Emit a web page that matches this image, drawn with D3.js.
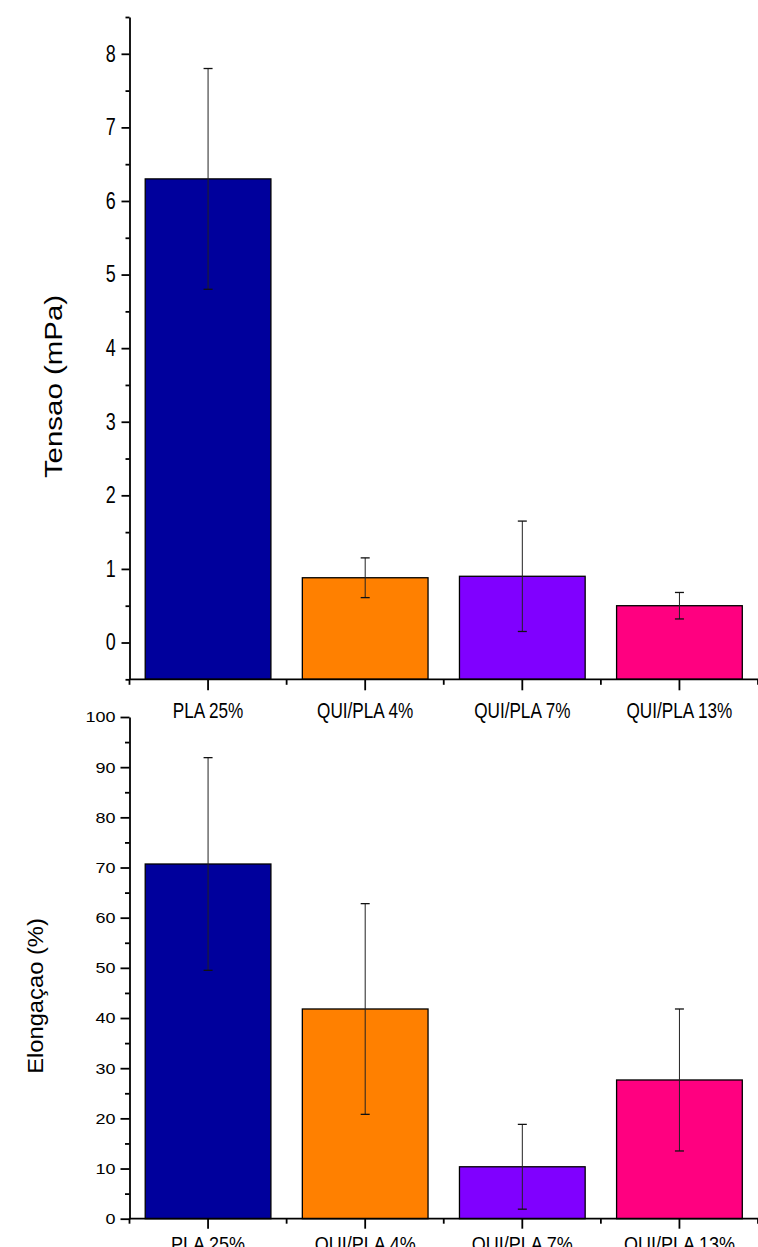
<!DOCTYPE html>
<html>
<head>
<meta charset="utf-8">
<script src="https://cdn.jsdelivr.net/npm/d3@7"></script>
<style>
  html, body { margin: 0; padding: 0; background: #fff; }
  svg { display: block; }
  text { font-family: "Liberation Sans", Arial, sans-serif; fill: #000; }
</style>
</head>
<body>
<script>
// ---- data ----
const categories = ["PLA 25%", "QUI/PLA 4%", "QUI/PLA 7%", "QUI/PLA 13%"];
const colors = ["#00009c", "#ff8000", "#8000ff", "#ff0080"];
const tensaoMean = [6.3, 0.88, 0.90, 0.50];
const tensaoErr  = [1.5, 0.27, 0.75, 0.18];
const elongMean = [70.7, 41.8, 10.35, 27.65];
const elongErr  = [21.2, 21.0, 8.45, 14.15];
const tensaoTicks = [0, 1, 2, 3, 4, 5, 6, 7, 8];
const elongTicks = [0, 10, 20, 30, 40, 50, 60, 70, 80, 90, 100];

const W = 758, H = 1247;
const svg = d3.select("body").append("svg").attr("width", W).attr("height", H);

function panel(opts) {
  const g = svg.append("g");
  const x = d3.scaleBand().domain(categories).range([129.5, 758]).paddingInner(0.2).paddingOuter(0.1);
  const y = d3.scaleLinear().domain(opts.domain).range(opts.range);
  const base = opts.domain[0];

  // bars
  g.selectAll("rect.bar").data(categories).join("rect")
    .attr("class", "bar")
    .attr("x", d => x(d))
    .attr("width", x.bandwidth())
    .attr("y", (d, i) => y(opts.mean[i]))
    .attr("height", (d, i) => y(base) - y(opts.mean[i]))
    .attr("fill", (d, i) => colors[i])
    .attr("stroke", "#000").attr("stroke-width", 1.3);

  // error bars
  const eb = g.selectAll("g.eb").data(categories).join("g").attr("class", "eb");
  eb.append("line")
    .attr("x1", d => x(d) + x.bandwidth() / 2).attr("x2", d => x(d) + x.bandwidth() / 2)
    .attr("y1", (d, i) => y(opts.mean[i] + opts.err[i]))
    .attr("y2", (d, i) => y(opts.mean[i] - opts.err[i]))
    .attr("stroke", "#222").attr("stroke-width", 1);
  [1, -1].forEach(s => {
    eb.append("line")
      .attr("x1", d => x(d) + x.bandwidth() / 2 - 4.5).attr("x2", d => x(d) + x.bandwidth() / 2 + 4.5)
      .attr("y1", (d, i) => y(opts.mean[i] + s * opts.err[i]))
      .attr("y2", (d, i) => y(opts.mean[i] + s * opts.err[i]))
      .attr("stroke", "#111").attr("stroke-width", 1.3);
  });

  // y axis
  const ya = g.append("g").attr("transform", "translate(129.5,0)")
    .call(d3.axisLeft(y).tickValues(opts.ticks).tickSize(opts.ytick).tickSizeOuter(0).tickPadding(4));
  ya.selectAll("text")
    .style("font-size", opts.tickFont + "px")
    .attr("x", -opts.labOff / opts.tsx)
    .attr("transform", `scale(${opts.tsx},1)`);
  // minor y ticks
  const ym = g.append("g").attr("transform", "translate(129.5,0)")
    .call(d3.axisLeft(y).tickValues(opts.minor).tickSize(opts.ytick / 2).tickSizeOuter(0).tickFormat(""));
  ym.select(".domain").remove();

  // x axis
  const yAx = y(base);
  const xa = g.append("g").attr("transform", `translate(0,${yAx})`)
    .call(d3.axisBottom(x).tickSize(opts.xtick).tickSizeOuter(0).tickPadding(opts.xpad));
  xa.select(".domain").attr("d", `M129.5,0H${W}`);
  xa.selectAll("text")
    .style("font-size", opts.xFont + "px")
    .attr("transform", `scale(${opts.xsx},1)`)
    .attr("x", 0);
  xa.selectAll(".tick").each(function(d) {
    const cx = x(d) + x.bandwidth() / 2;
    d3.select(this).attr("transform", `translate(${cx},0)`);
  });
  // minor x ticks at category boundaries
  const step = x.step();
  const bounds = [x(categories[0]) - step * 0.1].concat(categories.map(c => x(c) + x.bandwidth() + step * 0.1));
  g.append("g").selectAll("line").data(bounds).join("line")
    .attr("x1", d => d).attr("x2", d => d)
    .attr("y1", yAx).attr("y2", yAx + opts.xtick / 2)
    .attr("stroke", "#000").attr("stroke-width", 1.8);

  g.selectAll(".domain, .tick line").attr("stroke", "#000").attr("stroke-width", 1.8);

  // y label
  g.append("text")
    .attr("transform", `translate(${opts.ylx},${opts.yly}) rotate(-90) scale(${opts.ylsx},1)`)
    .attr("text-anchor", "middle")
    .style("font-size", opts.ylFont + "px")
    .text(opts.ylabel);
}

panel({
  domain: [-0.5, 8.5], range: [679.3, 17],
  mean: tensaoMean, err: tensaoErr,
  ticks: tensaoTicks, minor: d3.range(-0.5, 8.51, 0.5).filter(v => !Number.isInteger(v)),
  ytick: 8, xtick: 11, xpad: 12,
  tickFont: 23, tsx: 0.78, labOff: 13.8,
  xFont: 22, xsx: 0.78,
  ylabel: "Tensao (mPa)", ylx: 61.5, yly: 386.5, ylFont: 23, ylsx: 1.28
});

panel({
  domain: [0, 100], range: [1218.7, 717],
  mean: elongMean, err: elongErr,
  ticks: elongTicks, minor: d3.range(5, 100, 10),
  ytick: 9, xtick: 10, xpad: 8,
  tickFont: 15.4, tsx: 1.17, labOff: 14,
  xFont: 20, xsx: 0.9,
  ylabel: "Elongaçao (%)", ylx: 42.5, yly: 996, ylFont: 22, ylsx: 1.08
});
</script>
</body>
</html>
